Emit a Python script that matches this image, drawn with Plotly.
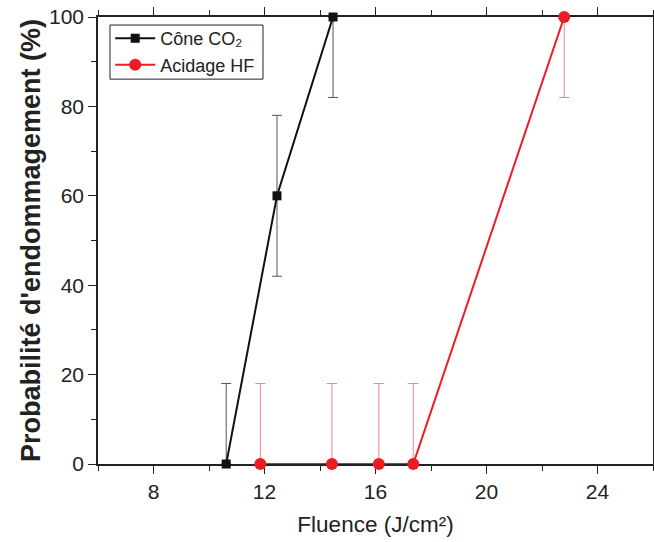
import plotly.graph_objects as go

# Data
co2_x = [10.62, 12.45, 14.47]
co2_y = [0, 60, 100]
co2_err_plus = [18, 18, 0]
co2_err_minus = [0, 18, 18]

hf_x = [11.85, 14.43, 16.12, 17.36, 22.80]
hf_y = [0, 0, 0, 0, 100]
hf_err_plus = [18, 18, 18, 18, 0]
hf_err_minus = [0, 0, 0, 0, 18]

x_ticks = [8, 12, 16, 20, 24]
y_ticks = [0, 20, 40, 60, 80, 100]

RED = "#ED1C24"
FONT = "Liberation Sans, Arial, sans-serif"

fig = go.Figure()
fig.add_trace(go.Scatter(
    x=co2_x, y=co2_y, mode="lines+markers", name="Cône CO₂",
    line=dict(color="#111111", width=2),
    marker=dict(symbol="square", size=9, color="#111111"),
    error_y=dict(type="data", symmetric=False, array=co2_err_plus,
                 arrayminus=co2_err_minus, color="#555555", thickness=1, width=5),
    cliponaxis=False,
))
fig.add_trace(go.Scatter(
    x=hf_x, y=hf_y, mode="lines+markers", name="Acidage HF",
    line=dict(color=RED, width=2),
    marker=dict(symbol="circle", size=12, color=RED),
    error_y=dict(type="data", symmetric=False, array=hf_err_plus,
                 arrayminus=hf_err_minus, color="rgba(237,28,36,0.55)", thickness=1, width=5),
    cliponaxis=False,
))

axis_common = dict(
    showline=True, linecolor="#222222", linewidth=1.5, mirror="allticks",
    ticks="outside", ticklen=8, tickwidth=1.2, tickcolor="#222222",
    showgrid=False, zeroline=False, layer="below traces", automargin=False,
    ticklabeloverflow="allow",
    tickfont=dict(family=FONT, size=21, color="#222222"),
)

fig.update_xaxes(
    range=[6, 26], tickvals=x_ticks,
    minor=dict(ticks="outside", dtick=2, tick0=0, ticklen=5, tickcolor="#222222"),
    title=dict(text="Fluence (J/cm²)", font=dict(family=FONT, size=22.5, color="#222222"), standoff=14),
    **axis_common,
)
fig.update_yaxes(
    range=[0, 100], tickvals=y_ticks,
    minor=dict(ticks="outside", dtick=10, tick0=0, ticklen=5, tickcolor="#222222"),
    title=dict(text="<b>Probabilité d'endommagement (%)</b>", font=dict(family=FONT, size=27, color="#222222"), standoff=1),
    **axis_common,
)

# legend frame drawn as a paper-referenced rectangle for a tighter box
fig.add_shape(type="rect", xref="paper", yref="paper",
              x0=0.0216, x1=0.2973, y0=0.861, y1=0.982,
              line=dict(color="#222222", width=1), fillcolor="rgba(0,0,0,0)", layer="above")

fig.update_layout(
    width=654, height=542,
    margin=dict(l=98, r=1, t=17, b=78),
    plot_bgcolor="white", paper_bgcolor="white",
    showlegend=True,
    legend=dict(x=0.022, y=0.993, xanchor="left", yanchor="top",
                borderwidth=0, bgcolor="rgba(0,0,0,0)",
                font=dict(family=FONT, size=18, color="#222222"),
                tracegroupgap=0, itemwidth=40),
)

fig.write_html("out.html", config={"displayModeBar": False},
               post_script="document.body.style.margin='0';document.body.style.overflow='hidden';")
